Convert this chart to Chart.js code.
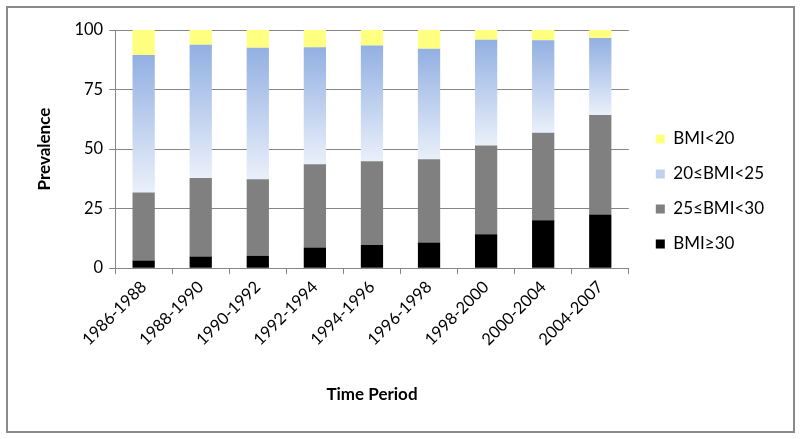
<!DOCTYPE html>
<html>
<head>
<meta charset="utf-8">
<script src="https://cdn.jsdelivr.net/npm/chart.js@4/dist/chart.umd.min.js"></script>
<style>
  body { margin: 0; background: #fff; }
  #wrap { position: relative; width: 800px; height: 439px; }
  #frame { position: absolute; left: 6px; top: 6px; width: 785px; height: 423px; border: 2px solid #8a8a8a; pointer-events: none; }
</style>
</head>
<body>
<div id="wrap">
  <canvas id="chart" width="800" height="439"></canvas>
  <div id="frame"></div>
</div>
<script>
// periodos e prevalencia (%) por faixa de IMC
const periods = ['1986-1988', '1988-1990', '1990-1992', '1992-1994', '1994-1996', '1996-1998', '1998-2000', '2000-2004', '2004-2007'];
const bmi30plus = [3.2, 4.9, 5.2, 8.7, 9.7, 10.8, 14.2, 20.1, 22.5];
const bmi25to30 = [28.6, 32.9, 32.1, 34.9, 35.2, 34.9, 37.3, 36.7, 41.8];
const bmi20to25 = [57.7, 56.0, 55.2, 49.2, 48.6, 46.4, 44.4, 38.9, 32.3];
const bmiUnder20 = [10.5, 6.2, 7.5, 7.2, 6.5, 7.9, 4.1, 4.3, 3.4];
const yTicks = [0, 25, 50, 75, 100];

const fontName = 'Lato, "Open Sans", sans-serif';

// gradiente azul de cada barra, do topo (mais escuro) pra base (quase branco)
function blueGradient(context) {
    const chart = context.chart;
    const y = chart.scales.y;
    if (!chart.chartArea || !y || context.dataIndex === undefined) return '#c0d1ee';
    const i = context.dataIndex;
    const base = bmi30plus[i] + bmi25to30[i];
    const top = base + bmi20to25[i];
    const g = chart.ctx.createLinearGradient(0, y.getPixelForValue(top), 0, y.getPixelForValue(base));
    g.addColorStop(0, '#92b0e2');
    g.addColorStop(1, '#eaf0fa');
    return g;
}

// empurra a legenda um pouco pra cima e pra direita (como no original)
const legendShift = {
    id: 'legendShift',
    afterLayout(chart) {
        const lg = chart.legend;
        if (!lg) return;
        lg.top -= 28;
        lg.bottom -= 28;
        lg.left += 9;
        lg.right += 9;
    }
};

const ctx = document.getElementById('chart').getContext('2d');
const chart = new Chart(ctx, {
    type: 'bar',
    data: {
        labels: periods,
        datasets: [{
            label: 'BMI≥30',
            data: bmi30plus,
            backgroundColor: '#000000'
        }, {
            label: '25≤BMI<30',
            data: bmi25to30,
            backgroundColor: '#808080'
        }, {
            label: '20≤BMI<25',
            data: bmi20to25,
            backgroundColor: blueGradient
        }, {
            label: 'BMI<20',
            data: bmiUnder20,
            backgroundColor: '#ffff80'
        }]
    },
    plugins: [legendShift],
    options: {
        responsive: false,
        animation: false,
        barPercentage: 0.39,
        categoryPercentage: 1,
        layout: {
            padding: { left: 30, right: 35, top: 30, bottom: 30 }
        },
        plugins: {
            legend: {
                position: 'right',
                reverse: true,
                labels: {
                    boxWidth: 9,
                    boxHeight: 9,
                    padding: 18,
                    color: '#000',
                    font: { family: fontName, size: 17 },
                    generateLabels: (c) => {
                        const items = Chart.defaults.plugins.legend.labels.generateLabels(c);
                        items.forEach(it => {
                            if (it.datasetIndex === 2) it.fillStyle = '#c0d1ee';
                            it.strokeStyle = 'rgba(0,0,0,0)';
                            it.lineWidth = 0;
                        });
                        return items;
                    }
                }
            },
            tooltip: { enabled: false }
        },
        scales: {
            x: {
                stacked: true,
                grid: { display: true, drawOnChartArea: false, color: '#868686', tickLength: 6 },
                border: { color: '#868686', width: 1 },
                ticks: { color: '#000', font: { family: fontName, size: 16.5 }, minRotation: 45, maxRotation: 45 },
                title: { display: true, text: 'Time Period', color: '#000', font: { family: fontName, size: 17, weight: 'bold' }, padding: { top: 32 } }
            },
            y: {
                stacked: true,
                min: 0,
                max: 100,
                afterBuildTicks: (axis) => { axis.ticks = yTicks.map(v => ({ value: v })); },
                grid: { color: '#868686', tickLength: 6 },
                border: { color: '#868686', width: 1 },
                ticks: { color: '#000', font: { family: fontName, size: 16.5 }, padding: 6 },
                title: { display: true, text: 'Prevalence', color: '#000', font: { family: fontName, size: 17, weight: 'bold' }, padding: { bottom: 14 } }
            }
        }
    }
});
</script>
</body>
</html>
